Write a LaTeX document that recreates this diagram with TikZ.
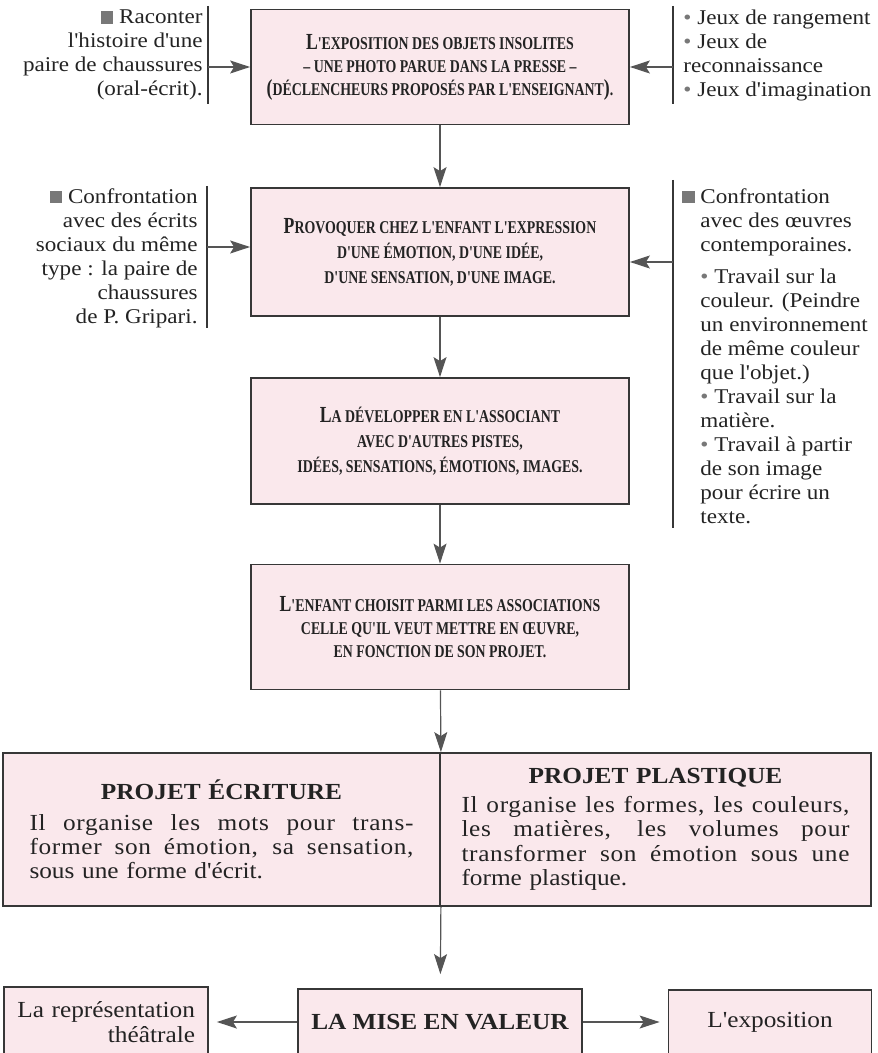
\documentclass[tikz,border=0pt]{standalone}
\usepackage{fontspec}
\setmainfont{Liberation Serif}[FakeStretch=1.1, Ligatures=TeXOff]
\newfontfamily\capsfont{Liberation Serif}[FakeStretch=0.77, Ligatures=TeXOff]
\usetikzlibrary{arrows.meta}

\definecolor{boxpink}{RGB}{250,232,236}
\definecolor{framegray}{RGB}{55,55,55}
\definecolor{arrowgray}{RGB}{85,85,85}
\definecolor{markgray}{RGB}{120,120,120}
\definecolor{inkgray}{RGB}{35,35,35}

% large first letter of the small capitals
\newcommand{\bigc}[1]{{\fontsize{11.5}{11}\selectfont #1}}
\newcommand{\sqmark}{{\color{markgray}\rule{0.6em}{0.6em}}}
\newcommand{\dotmark}{{\color{markgray}\textbullet}}
% one justified line of a project text
\newcommand{\jline}[2][192pt]{\makebox[#1][s]{\addfontfeature{LetterSpace=3}\spaceskip=0pt\relax #2}\\}

\begin{document}
\begin{tikzpicture}[x=0.5pt,y=-0.5pt,
		stage/.style={draw=framegray, line width=0.9pt, fill=boxpink, text=inkgray, align=center,
			minimum width=189pt, inner sep=0pt, font=\capsfont\bfseries\fontsize{9}{11.5}\selectfont},
		half/.style={draw=framegray, line width=0.9pt, fill=boxpink, text=inkgray, align=left,
			minimum height=76.5pt, inner xsep=0pt, font=\fontsize{11.5}{12.2}\selectfont},
		outcome/.style={draw=framegray, line width=0.9pt, fill=boxpink, text=inkgray,
			font=\fontsize{11.5}{12.5}\selectfont},
		note/.style={text=inkgray, inner sep=0pt, font=\fontsize{10.5}{12}\selectfont},
		noterule/.style={draw=framegray, line width=0.6pt},
		link/.style={draw=arrowgray, line width=0.6pt, -{Stealth[length=10pt,width=6.5pt,inset=2pt]}}]
		\useasboundingbox (0,0) rectangle (877,1053);
		\clip (0,0) rectangle (877,1053);
		% main column
		\node[stage, minimum height=57.5pt] (expo) at (440,67) {\bigc{L}'EXPOSITION DES OBJETS INSOLITES\\
			– UNE PHOTO PARUE DANS LA PRESSE –\\
			\bigc{(}DÉCLENCHEURS PROPOSÉS PAR L'ENSEIGNANT\bigc{)}.};
		\node[stage, minimum height=64pt, font=\capsfont\bfseries\fontsize{9}{12.5}\selectfont] (provoq) at (440,252) {\bigc{P}ROVOQUER CHEZ L'ENFANT L'EXPRESSION\\
			D'UNE ÉMOTION, D'UNE IDÉE,\\
			D'UNE SENSATION, D'UNE IMAGE.};
		\node[stage, minimum height=63pt, font=\capsfont\bfseries\fontsize{9}{12.5}\selectfont] (develop) at (440,441) {\bigc{L}A DÉVELOPPER EN L'ASSOCIANT\\
			AVEC D'AUTRES PISTES,\\
			IDÉES, SENSATIONS, ÉMOTIONS, IMAGES.};
		\node[stage, minimum height=62.5pt] (choix) at (440,627) {\bigc{L}'ENFANT CHOISIT PARMI LES ASSOCIATIONS\\
			CELLE QU'IL VEUT METTRE EN ŒUVRE,\\
			EN FONCTION DE SON PROJET.};
		% the two projects
		\node[half, minimum width=218.5pt, text width=192pt] (ecriture) at (221.5,829.5) {%
			\makebox[192pt][c]{\bfseries\fontsize{11.5}{12}\selectfont PROJET ÉCRITURE}\\[3pt]
			\jline{Il organise les mots pour trans-}
			\jline{former son émotion, sa sensation,}
			sous une forme d'écrit.};
		\node[half, minimum width=215.5pt, text width=194pt] (plastique) at (655.5,829.5) {%
			\makebox[194pt][c]{\bfseries\fontsize{11.5}{12}\selectfont PROJET PLASTIQUE}\\[2pt]
			\jline[194pt]{Il organise les formes, les couleurs,}
			\jline[194pt]{les matières, les volumes pour}
			\jline[194pt]{transformer son émotion sous une}
			forme plastique.};
		% showing the work
		\node[outcome, minimum width=142pt, minimum height=33pt, font=\bfseries\fontsize{11.5}{13}\selectfont] (valeur) at (440,1022) {LA MISE EN VALEUR};
		\node[outcome, minimum width=102pt, minimum height=35pt, text width=89pt, align=right, inner xsep=0pt] (theatre) at (106,1022) {La représentation\\théâtrale};
		\node[outcome, minimum width=101.5pt, minimum height=32pt] (vitrine) at (770,1022) {L'exposition};
		\draw[link] (expo) -- (provoq);
		\draw[link] (provoq) -- (develop);
		\draw[link] (develop) -- (choix);
		\draw[link] (choix) -- (ecriture.north east);
		\draw[link, shorten >=7pt] (ecriture.south east) -- (valeur);
		\draw[link, shorten >=4pt] (valeur) -- (theatre);
		\draw[link, shorten >=4pt] (valeur) -- (vitrine);
		% side notes
		\node[note, anchor=east, align=right] (raconter) at (203,55) {\sqmark\ Raconter\\
			l'histoire d'une\\
			paire de chaussures\\
			(oral-écrit).};
		\draw[noterule] (208,6) -- (208,104);
		\coordinate (ruleA) at (208,67);
		\draw[link] (ruleA) -- (expo);
		\node[note, anchor=west, align=left] (jeux) at (683,55) {\dotmark\ Jeux de rangement\\
			\dotmark\ Jeux de\\
			reconnaissance\\
			\dotmark\ Jeux d'imagination};
		\draw[noterule] (673,6) -- (673,104);
		\coordinate (ruleB) at (673,67);
		\draw[link] (ruleB) -- (expo);
		\node[note, anchor=east, align=right] (ecrits) at (198,258) {\sqmark\ Confrontation\\
			avec des écrits\\
			sociaux du même\\
			type : la paire de\\
			chaussures\\
			de P. Gripari.};
		\draw[noterule] (207,186) -- (207,328);
		\coordinate (ruleC) at (207,247);
		\draw[link] (ruleC) -- (ruleC -| provoq.west);
		\node[note, anchor=north west, align=left] (oeuvres) at (700,188) {\llap{\sqmark\ }Confrontation\\
			avec des œuvres\\
			contemporaines.\\[4pt]
			\dotmark\ Travail sur la\\
			couleur. (Peindre\\
			un environnement\\
			de même couleur\\
			que l'objet.)\\
			\dotmark\ Travail sur la\\
			matière.\\
			\dotmark\ Travail à partir\\
			de son image\\
			pour écrire un\\
			texte.};
		\draw[noterule] (673,180) -- (673,528);
		\coordinate (ruleD) at (673,262);
		\draw[link] (ruleD) -- (ruleD -| provoq.east);
	\end{tikzpicture}
\end{document}
